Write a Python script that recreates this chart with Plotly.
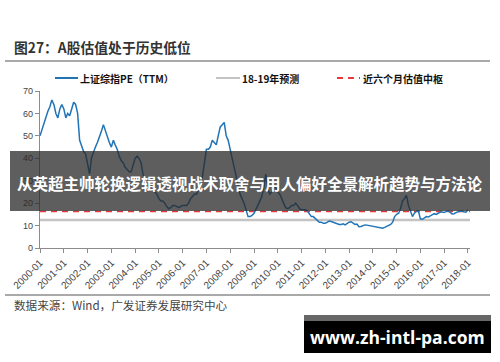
import pandas as pd
import plotly.graph_objects as go

# ---------------- data ----------------
start_month = "2000-01-01"
end_month = "2018-01-01"
pe_ttm = [
    # 2000
    50, 53, 55, 58, 61, 63, 66, 64, 60, 58, 62, 64,
    # 2001
    62, 58, 60, 59, 62, 65, 64, 60, 48, 45, 43, 42,
    # 2002
    37, 33, 40, 43, 45, 47, 50, 52, 55, 52, 50, 47,
    # 2003
    45, 48, 46, 44, 41, 39, 38, 36, 35, 34, 34, 37,
    # 2004
    40, 41, 40, 38, 33, 30, 29, 28, 27, 26, 25, 24,
    # 2005
    22, 21, 21, 20, 18.5, 17.5, 18, 19, 19, 18.5, 18, 18.5,
    # 2006
    19, 19, 19, 20, 22, 23, 24, 24, 26, 28, 32, 38,
    # 2007
    44, 44, 45, 48, 47, 46, 50, 54, 55, 56, 50, 48,
    # 2008
    44, 40, 36, 31, 28, 24, 22, 20, 17, 14, 14, 14.5,
    # 2009
    15.5, 17, 19, 21, 23, 27, 33, 26, 24, 25, 27, 27,
    # 2010
    25, 24, 22, 20, 18, 17.5, 18, 19, 19, 20, 19, 17.5,
    # 2011
    17, 17, 17, 16.5, 15, 14, 14, 13, 12, 11.5, 11.5, 11,
    # 2012
    11, 11.5, 12, 11.8, 11.5, 11, 10.7, 10.5, 10.5, 10.8, 10.3, 11,
    # 2013
    11.5, 11.7, 11, 10.5, 10.7, 9.5, 9.6, 10, 10.3, 10.2, 10, 9.8,
    # 2014
    9.5, 9.5, 9.2, 9, 8.8, 8.8, 9.2, 9.6, 10, 10.5, 11.5, 14,
    # 2015
    15, 15.5, 17.5, 21, 22, 23.5, 19, 16, 14, 15.5, 16.5, 16.5,
    # 2016
    13, 12.8, 13.5, 14, 13.8, 14.2, 14.8, 15.3, 15, 15.5, 16, 16,
    # 2017
    15.8, 16.3, 16.5, 16, 15.2, 15.3, 15.8, 16.2, 16.4, 16.5, 16.2, 16,
    # 2018
    17,
]
forecast_pe = 12.5        # 18-19年预测
center_pe = 16.3          # 近六个月估值中枢
line_start = "2000-01-01"
line_end = "2018-02-01"

series_names = ["上证综指PE（TTM）", "18-19年预测", "近六个月估值中枢"]
title_text = "图27：A股估值处于历史低位"
source_text = "数据来源：Wind，广发证券发展研究中心"
banner_text = "从英超主帅轮换逻辑透视战术取舍与用人偏好全景解析趋势与方法论"
watermark_text = "www.zh-intl-pa.com"

months = pd.date_range(start_month, end_month, freq="MS")

BLUE = "#2174b5"
GRAY = "#c4c4c4"
RED = "#e8383d"
FONT = "Liberation Sans, Arial, Noto Sans CJK SC"
CJK = "Noto Sans CJK SC, Liberation Sans"

fig = go.Figure()
fig.add_trace(go.Scatter(x=[line_start, line_end], y=[forecast_pe, forecast_pe],
                         mode="lines", line=dict(color=GRAY, width=2.5),
                         name=series_names[1], hoverinfo="skip"))
fig.add_trace(go.Scatter(x=[line_start, line_end], y=[center_pe, center_pe],
                         mode="lines", line=dict(color=RED, width=1.6, dash="6px,5px"),
                         name=series_names[2], hoverinfo="skip"))
fig.add_trace(go.Scatter(x=months, y=pe_ttm, mode="lines",
                         line=dict(color=BLUE, width=1.5), name=series_names[0]))

# plot-area pixel geometry
L, R, T, B = 40, 470, 91, 248
W, H = R - L, B - T


def px(xp):
    return (xp - L) / W


def py(yp):
    return (B - yp) / H


shapes = []
annotations = []

# separators
for yline in (61, 295):
    shapes.append(dict(type="line", xref="paper", yref="paper",
                       x0=px(5), x1=px(490), y0=py(yline), y1=py(yline),
                       line=dict(color="#8c8c8c", width=1.5)))

# title
annotations.append(dict(text="<b>" + title_text + "</b>", xref="paper", yref="paper",
                        x=px(12), y=py(47), xanchor="left", yanchor="middle",
                        showarrow=False, font=dict(family=CJK, size=13.8, color="#333333")))

# legend (manual)
leg_y = 78
shapes.append(dict(type="line", xref="paper", yref="paper", x0=px(55), x1=px(78),
                   y0=py(leg_y), y1=py(leg_y), line=dict(color=BLUE, width=2)))
shapes.append(dict(type="line", xref="paper", yref="paper", x0=px(216), x1=px(240),
                   y0=py(leg_y), y1=py(leg_y), line=dict(color=GRAY, width=2)))
shapes.append(dict(type="line", xref="paper", yref="paper", x0=px(337), x1=px(360),
                   y0=py(leg_y), y1=py(leg_y), line=dict(color=RED, width=2, dash="6px,5px")))
for xx, name in ((78, series_names[0]), (240, series_names[1]), (361, series_names[2])):
    annotations.append(dict(text="<b>" + name + "</b>", xref="paper", yref="paper",
                            x=px(xx), y=py(leg_y), xanchor="left", yanchor="middle",
                            showarrow=False, font=dict(family=CJK, size=10, color="#111111")))

# source
annotations.append(dict(text=source_text, xref="paper", yref="paper",
                        x=px(12), y=py(305), xanchor="left", yanchor="middle",
                        showarrow=False, font=dict(family=CJK, size=11.6, color="#444444")))

# banner overlay
shapes.append(dict(type="rect", xref="paper", yref="paper", layer="above",
                   x0=px(10), x1=px(490), y0=py(211), y1=py(151),
                   fillcolor="rgba(40,40,40,0.75)", line=dict(width=0)))
annotations.append(dict(text="<b>" + banner_text + "</b>", xref="paper", yref="paper",
                        x=px(250), y=py(183), xanchor="center", yanchor="middle",
                        showarrow=False, font=dict(family=CJK, size=15.5, color="white")))

# watermark box
shapes.append(dict(type="rect", xref="paper", yref="paper", layer="above",
                   x0=px(304), x1=px(491), y0=py(321), y1=py(315),
                   fillcolor="#676767", line=dict(width=0)))
shapes.append(dict(type="rect", xref="paper", yref="paper", layer="above",
                   x0=px(304), x1=px(491), y0=py(353), y1=py(321),
                   fillcolor="#000000", line=dict(width=0)))
annotations.append(dict(text="<b>" + watermark_text + "</b>", xref="paper", yref="paper",
                        x=px(397), y=py(337), xanchor="center", yanchor="middle",
                        showarrow=False, font=dict(family="Open Sans, Liberation Sans", size=17.5, color="white")))

fig.update_layout(
    width=500, height=362,
    margin=dict(l=L, r=500 - R, t=T, b=362 - B, pad=0),
    paper_bgcolor="white", plot_bgcolor="white",
    showlegend=False,
    font=dict(family=FONT, color="#444444"),
    shapes=shapes, annotations=annotations,
    xaxis=dict(type="date", range=["2000-01-01", "2018-02-01"],
               tick0="2000-01-01", dtick="M12", tickformat="%Y-%m",
               tickangle=-45, tickfont=dict(size=10, color="#444444"),
               showline=True, linecolor="#8c8c8c", linewidth=1.2,
               ticks="outside", ticklen=4, tickcolor="#8c8c8c",
               showgrid=False, zeroline=False, fixedrange=True, automargin=False),
    yaxis=dict(range=[0, 70], dtick=10, tickfont=dict(size=9, color="#444444"),
               showline=True, linecolor="#8c8c8c", linewidth=1.2,
               ticks="outside", ticklen=4, tickcolor="#8c8c8c",
               showgrid=False, zeroline=False, fixedrange=True, automargin=False),
)

fig.write_html("out.html", config={"displayModeBar": False},
               post_script="document.body.style.margin='0';document.body.style.padding='0';")
